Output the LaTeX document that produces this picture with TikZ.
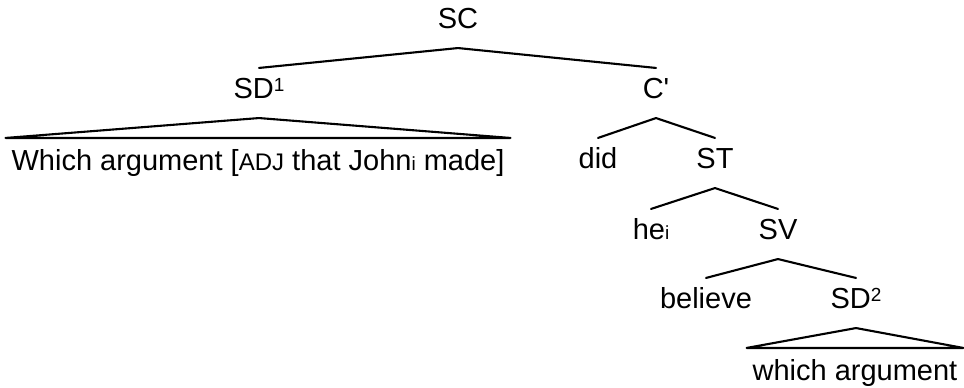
\documentclass[tikz,border=0pt]{standalone}
\usepackage{fontspec}
\setmainfont{Liberation Sans}
\usetikzlibrary{positioning}
\tikzset{
    syntax tree/.style = {x=1pt, y=-1pt, line width=2.1pt, line cap=round,
                          line join=round},
    cat/.style         = {anchor=base, inner sep=0pt, text height=29pt,
                          text depth=19pt, font=\fontsize{29}{34}\selectfont},
    leaf/.style        = {anchor=base, inner ysep=0pt, inner xsep=5pt,
                          text height=31pt, text depth=8pt,
                          font=\fontsize{29}{34}\selectfont},
    branch/.style      = {draw},
    roof/.style        = {draw}
}
\newcommand{\smallcap}[1]{{\fontsize{24}{28}\selectfont #1}}
\newcommand{\supnum}[1]{\raisebox{7pt}{\fontsize{19}{20}\selectfont #1}}
\newcommand{\subidx}[1]{{\fontsize{19}{20}\selectfont #1}}

\begin{document}
\begin{tikzpicture}[syntax tree]
\useasboundingbox (0,0) rectangle (964,388);
% categories
\node[cat] (sc)      at (458,28)  {SC};
\node[cat] (sdone)   at (259,98)  {SD\supnum{1}};
\node[cat] (cbar)    at (656,98)  {C\textquotesingle};
\node[cat] (did)     at (598,168) {did};
\node[cat] (st)      at (715,168) {ST};
\node[cat] (he)      at (651,239) {he\subidx{i}};
\node[cat] (sv)      at (778,239) {SV};
\node[cat] (believe) at (706,308) {believe};
\node[cat] (sdtwo)   at (856,308) {SD\supnum{2}};
% leaves under roofs
\node[leaf] (whichone) at (258,170)
    {Which argument [\smallcap{ADJ} that John\subidx{i} made]};
\node[leaf] (whichtwo) at (855,380) {which argument};

% branches
\draw[branch] (sdone.north) -- (sc.south) -- (cbar.north);
\draw[branch] (did.north) -- (cbar.south) -- (st.north);
\draw[branch] (he.north) -- (st.south) -- (sv.north);
\draw[branch] (believe.north) -- (sv.south) -- (sdtwo.north);
% roofs
\draw[roof] (sdone.south) -- (whichone.north east) -- (whichone.north west) -- cycle;
\draw[roof] (sdtwo.south) -- (whichtwo.north east) -- (whichtwo.north west) -- cycle;
\end{tikzpicture}
\end{document}
